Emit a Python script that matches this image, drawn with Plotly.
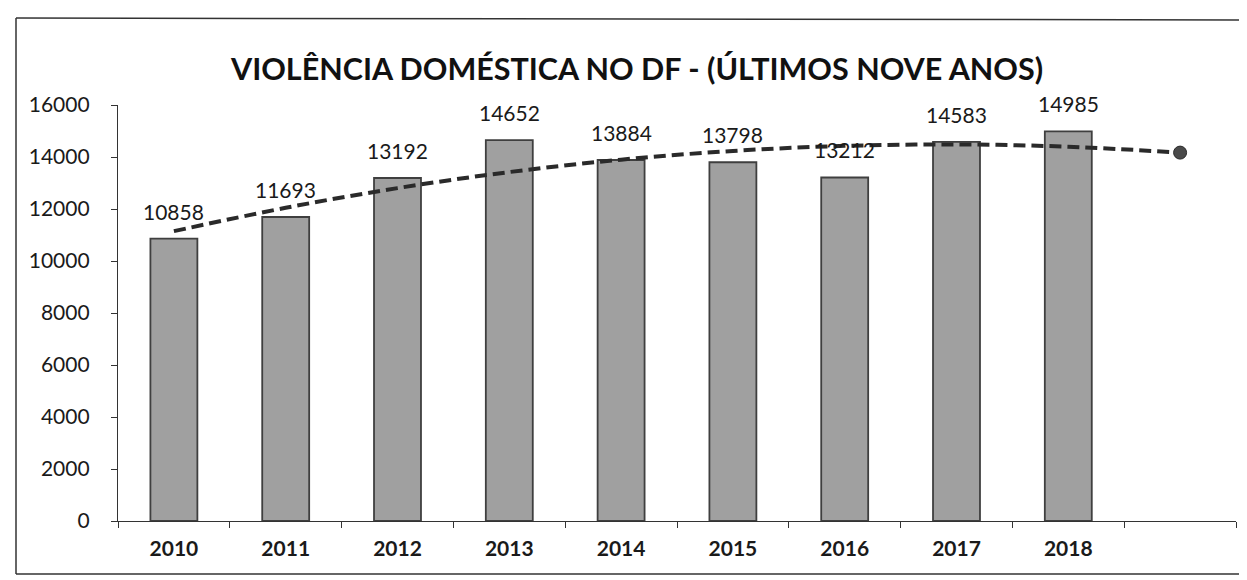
import plotly.graph_objects as go

# ---- data ----
years = ["2010", "2011", "2012", "2013", "2014", "2015", "2016", "2017", "2018"]
cases = [10858, 11693, 13192, 14652, 13884, 13798, 13212, 14583, 14985]
forecast_slot = " "
# polynomial trend line values (one per category, incl. forecast slot)
trend = [11148, 12046, 12804, 13421, 13898, 14233, 14428, 14483, 14396, 14169]
y_ticks = [0, 2000, 4000, 6000, 8000, 10000, 12000, 14000, 16000]
title_text = "VIOLÊNCIA DOMÉSTICA NO DF - (ÚLTIMOS NOVE ANOS)"

categories = years + [forecast_slot]
FONT = "Lato"

W, H = 1247, 580
ML, MR, MT, MB = 110, 19, 97, 67
PW, PH = W - ML - MR, H - MT - MB


def px_x(px):
    return (px - ML) / PW


def px_y(py):
    return (H - MB - py) / PH


fig = go.Figure()

fig.add_trace(go.Bar(
    x=years, y=cases,
    width=0.42,
    marker=dict(color="#a0a0a0", line=dict(color="#3f3f3f", width=1.8)),
    hoverinfo="x+y",
    showlegend=False,
))

fig.add_trace(go.Scatter(
    x=categories, y=trend,
    mode="lines",
    line=dict(color="#2a2a2a", width=4, dash="12px,6px", shape="spline"),
    showlegend=False,
))

fig.add_trace(go.Scatter(
    x=[categories[-1]], y=[trend[-1]],
    mode="markers",
    marker=dict(color="#4a4a4a", size=13, line=dict(color="#2a2a2a", width=1)),
    showlegend=False,
))

# data labels (category index position on the category axis)
for i, v in enumerate(cases):
    fig.add_annotation(
        x=i, y=v, xref="x", yref="y", text=str(v), showarrow=False,
        yanchor="bottom", yshift=13,
        font=dict(family=FONT, size=21, color="#1a1a1a"),
    )

fig.add_annotation(
    xref="paper", yref="paper", x=px_x(628), y=px_y(60),
    text="<b>" + title_text + "</b>", showarrow=False,
    xanchor="center", yanchor="middle",
    font=dict(family=FONT, size=30.5, color="#111111"),
)

# outer frame lines (scanned page border)
line_style = dict(color="#333333", width=1.5)
fig.add_shape(type="line", xref="paper", yref="paper",
              x0=px_x(8), y0=px_y(10), x1=px_x(8), y1=px_y(566), line=line_style)
fig.add_shape(type="line", xref="paper", yref="paper",
              x0=px_x(8), y0=px_y(10), x1=px_x(1247), y1=px_y(12), line=line_style)
fig.add_shape(type="line", xref="paper", yref="paper",
              x0=px_x(8), y0=px_y(566), x1=px_x(1240), y1=px_y(566), line=line_style)

fig.update_layout(
    width=W, height=H,
    margin=dict(l=ML, r=MR, t=MT, b=MB),
    paper_bgcolor="white", plot_bgcolor="white",
    font=dict(family=FONT, color="#1a1a1a"),
    bargap=0.58,
)

fig.update_xaxes(
    type="category", categoryorder="array", categoryarray=categories,
    range=[-0.5, len(categories) - 0.5],
    tickson="boundaries", ticks="outside", ticklen=6, tickcolor="#333",
    showline=True, linecolor="#333", linewidth=1.3,
    showgrid=False,
    tickfont=dict(family=FONT, size=21, color="#1a1a1a", weight="bold"),
    ticklabelstandoff=9,
)

fig.update_yaxes(
    range=[0, 16000], tickvals=y_ticks, tickformat="d",
    ticks="outside", ticklen=6, tickcolor="#333",
    showline=True, linecolor="#333", linewidth=1.3,
    showgrid=False, zeroline=False,
    tickfont=dict(family=FONT, size=21, color="#1a1a1a"),
    ticklabelstandoff=17,
)

fig.write_html("out.html")
